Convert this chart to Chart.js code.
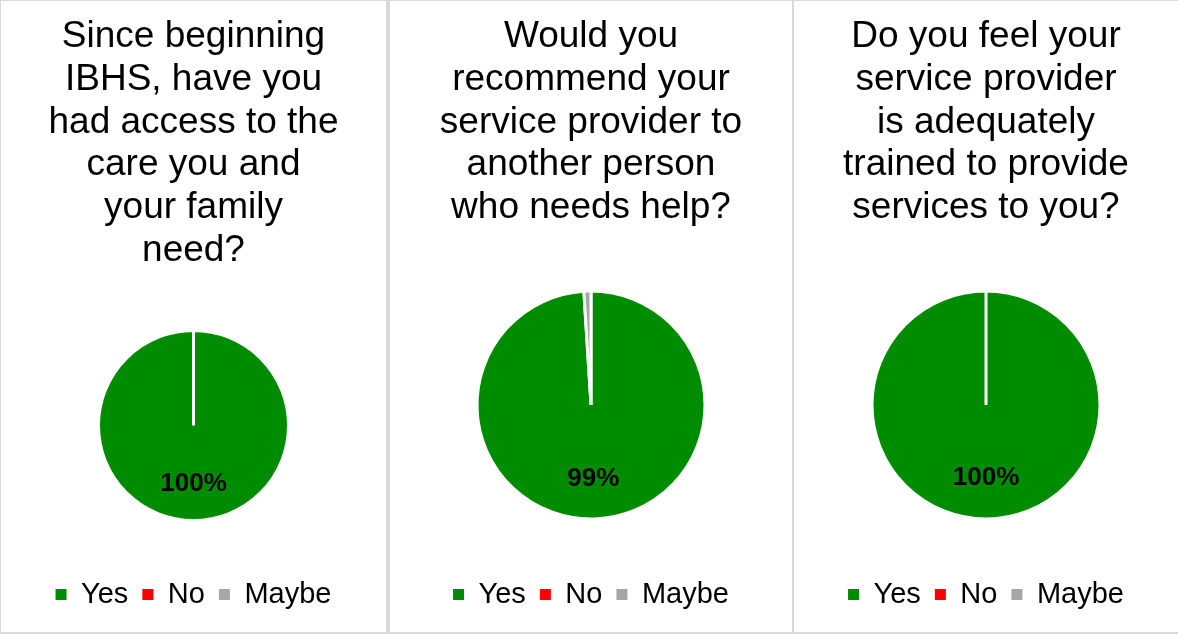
<!DOCTYPE html>
<html>
<head>
<meta charset="utf-8">
<script src="https://cdn.jsdelivr.net/npm/chart.js@4.4.1/dist/chart.umd.min.js"></script>
<style>
  html, body { margin: 0; padding: 0; background: #fff; }
  #frame { position: absolute; left: 0; top: 0; width: 1178px; height: 635px; background: #fff; overflow: hidden; }
  .edge { position: absolute; background: #d9d9d9; }
  .panel { position: absolute; top: 1px; height: 631px; background: #fff; }
  .panel canvas { display: block; }
</style>
</head>
<body>
<div id="frame">
  <div class="edge" style="left:0;top:0;width:1178px;height:1px"></div>
  <div class="edge" style="left:0;top:0;width:1px;height:634px"></div>
  <div class="edge" style="left:0;top:632px;width:1178px;height:2px"></div>
  <div class="edge" style="left:386px;top:0;width:4px;height:634px"></div>
  <div class="edge" style="left:792px;top:0;width:2px;height:634px"></div>
  <div class="panel" style="left:1px;width:385px"><canvas id="c1" width="385" height="631"></canvas></div>
  <div class="panel" style="left:390px;width:402px"><canvas id="c2" width="402" height="631"></canvas></div>
  <div class="panel" style="left:794px;width:384px"><canvas id="c3" width="384" height="631"></canvas></div>
</div>
<script>
// Answer categories shared by all three questions
const categories = ['Yes', 'No', 'Maybe'];

// Question titles, one array of lines per chart
const accessTitle = ['Since beginning', 'IBHS, have you', 'had access to the', 'care you and', 'your family', 'need?'];
const recommendTitle = ['Would you', 'recommend your', 'service provider to', 'another person', 'who needs help?'];
const trainedTitle = ['Do you feel your', 'service provider', 'is adequately', 'trained to provide', 'services to you?'];

// Share of responses (%) per category
const accessValues = [100, 0, 0];
const recommendValues = [99, 0, 1];
const trainedValues = [100, 0, 0];

const sliceColors = ['#008C00', '#FF0000', '#A6A6A6'];
const FONT = '"Liberation Sans", Arial, sans-serif';

// Percentage labels placed inside each slice
const sliceLabels = {
  id: 'sliceLabels',
  afterDatasetsDraw(chart, args, opts) {
    const ctx = chart.ctx;
    const ds = chart.data.datasets[0];
    const total = ds.data.reduce((a, b) => a + b, 0);
    chart.getDatasetMeta(0).data.forEach((arc, i) => {
      const v = ds.data[i];
      if (!total || v / total < opts.minShare) return;
      const mid = (arc.startAngle + arc.endAngle) / 2;
      const r = arc.outerRadius * opts.radiusFactor;
      ctx.save();
      ctx.font = 'bold 26px ' + FONT;
      ctx.fillStyle = '#000';
      ctx.textAlign = 'center';
      ctx.textBaseline = 'middle';
      ctx.fillText(Math.round(v / total * 100) + '%', arc.x + Math.cos(mid) * r, arc.y + Math.sin(mid) * r);
      ctx.restore();
    });
  }
};

function makePie(id, title, values, radius, titleGap, labelFactor) {
  return new Chart(document.getElementById(id), {
    type: 'pie',
    data: {
      labels: categories,
      datasets: [{
        data: values,
        backgroundColor: sliceColors,
        borderColor: '#ffffff',
        borderWidth: 3
      }]
    },
    options: {
      responsive: false,
      animation: false,
      radius: radius,
      layout: { padding: { top: 0, bottom: 13, left: 0, right: 0 } },
      plugins: {
        tooltip: { enabled: false },
        title: {
          display: true,
          text: title,
          color: '#000',
          font: { family: FONT, size: 37, weight: 'normal', lineHeight: 1.16 },
          padding: { top: 14, bottom: titleGap }
        },
        legend: {
          position: 'bottom',
          labels: {
            color: '#000',
            font: { family: FONT, size: 29 },
            boxWidth: 11,
            boxHeight: 11,
            padding: 14,
            generateLabels(chart) {
              return Chart.overrides.pie.plugins.legend.labels.generateLabels(chart)
                .map(item => Object.assign({}, item, { lineWidth: 0 }));
            }
          }
        },
        sliceLabels: { minShare: 0.05, radiusFactor: labelFactor }
      }
    },
    plugins: [sliceLabels]
  });
}

makePie('c1', accessTitle, accessValues, 95, 12.5, 0.61);
makePie('c2', recommendTitle, recommendValues, 114, 14.4, 0.65);
makePie('c3', trainedTitle, trainedValues, 114, 14.4, 0.64);
</script>
</body>
</html>
